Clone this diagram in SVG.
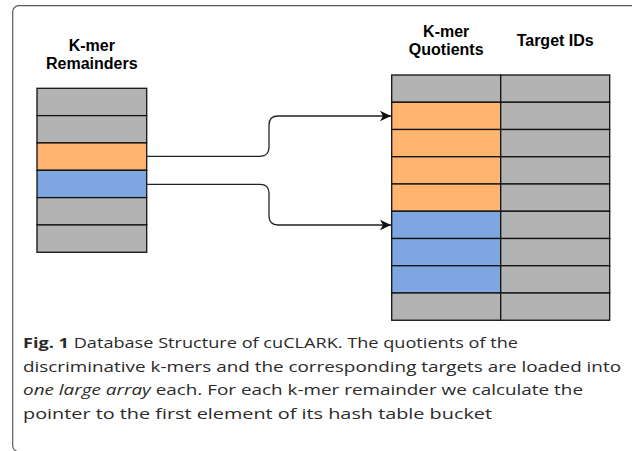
<svg xmlns="http://www.w3.org/2000/svg" width="632" height="451" viewBox="0 0 632 451">
  <defs>
    <style>
      .frame { fill: none; stroke: #5a5a5a; stroke-width: 1.2; }
      .cell { stroke: #111; stroke-width: 1.3; }
      .grey { fill: #b3b3b3; }
      .orange { fill: #ffb570; }
      .blue { fill: #7ea6e0; }
      .hdr { font-family: "Liberation Sans", Arial, sans-serif; font-weight: bold; font-size: 16px; fill: #000; text-anchor: middle; }
      .wire { fill: none; stroke: #222; stroke-width: 1.3; }
      .cap { font-family: "Open Sans", "Noto Sans", sans-serif; font-size: 14.5px; fill: #2a2a2a; }
    </style>
    <marker id="arrow" markerUnits="userSpaceOnUse" markerWidth="12" markerHeight="12" viewBox="0 0 12 12" refX="11" refY="6" orient="auto">
      <path d="M11,6 L0,0.8 L3,6 L0,11.2 Z" fill="#111"/>
    </marker>
  </defs>

  <rect class="frame" x="12.7" y="5.7" width="640" height="446" rx="6"/>

  <!-- K-mer remainders array -->
  <g id="remainders">
    <text class="hdr" x="91.8" y="50.5">K-mer</text>
    <text class="hdr" x="91.8" y="69">Remainders</text>
    <rect class="cell grey" x="37" y="88.3" width="109.7" height="27.33"/>
    <rect class="cell grey" x="37" y="115.63" width="109.7" height="27.33"/>
    <rect class="cell orange" x="37" y="142.96" width="109.7" height="27.33"/>
    <rect class="cell blue" x="37" y="170.29" width="109.7" height="27.33"/>
    <rect class="cell grey" x="37" y="197.62" width="109.7" height="27.33"/>
    <rect class="cell grey" x="37" y="224.95" width="109.7" height="27.33"/>
  </g>

  <!-- K-mer quotients column -->
  <g id="quotients">
    <text class="hdr" x="446.2" y="36.7">K-mer</text>
    <text class="hdr" x="446.2" y="54.5">Quotients</text>
    <rect class="cell grey" x="391.7" y="75" width="109" height="27.25"/>
    <rect class="cell orange" x="391.7" y="102.25" width="109" height="27.25"/>
    <rect class="cell orange" x="391.7" y="129.5" width="109" height="27.25"/>
    <rect class="cell orange" x="391.7" y="156.75" width="109" height="27.25"/>
    <rect class="cell orange" x="391.7" y="184" width="109" height="27.25"/>
    <rect class="cell blue" x="391.7" y="211.25" width="109" height="27.25"/>
    <rect class="cell blue" x="391.7" y="238.5" width="109" height="27.25"/>
    <rect class="cell blue" x="391.7" y="265.75" width="109" height="27.25"/>
    <rect class="cell grey" x="391.7" y="293" width="109" height="27.25"/>
  </g>

  <!-- Target IDs column -->
  <g id="targets">
    <text class="hdr" x="555.2" y="46">Target IDs</text>
    <rect class="cell grey" x="500.7" y="75" width="109" height="27.25"/>
    <rect class="cell grey" x="500.7" y="102.25" width="109" height="27.25"/>
    <rect class="cell grey" x="500.7" y="129.5" width="109" height="27.25"/>
    <rect class="cell grey" x="500.7" y="156.75" width="109" height="27.25"/>
    <rect class="cell grey" x="500.7" y="184" width="109" height="27.25"/>
    <rect class="cell grey" x="500.7" y="211.25" width="109" height="27.25"/>
    <rect class="cell grey" x="500.7" y="238.5" width="109" height="27.25"/>
    <rect class="cell grey" x="500.7" y="265.75" width="109" height="27.25"/>
    <rect class="cell grey" x="500.7" y="293" width="109" height="27.25"/>
  </g>

  <!-- connectors from remainders to bucket starts -->
  <g id="connectors">
    <path class="wire" marker-end="url(#arrow)" d="M146.7,156.3 H260 Q269,156.3 269,147.3 V125 Q269,116 278,116 H391"/>
    <path class="wire" marker-end="url(#arrow)" d="M146.7,184.3 H260 Q269,184.3 269,193.3 V216 Q269,225 278,225 H391"/>
  </g>

  <!-- caption -->
  <g id="caption">
    <text class="cap" x="23" y="347.7" textLength="495" lengthAdjust="spacingAndGlyphs"><tspan font-weight="bold">Fig. 1</tspan> Database Structure of cuCLARK. The quotients of the</text>
    <text class="cap" x="23" y="371.5" textLength="598" lengthAdjust="spacingAndGlyphs">discriminative k-mers and the corresponding targets are loaded into</text>
    <text class="cap" x="23" y="395" textLength="560" lengthAdjust="spacingAndGlyphs"><tspan font-style="italic">one large array</tspan> each. For each k-mer remainder we calculate the</text>
    <text class="cap" x="23" y="418.5" textLength="469" lengthAdjust="spacingAndGlyphs">pointer to the first element of its hash table bucket</text>
  </g>
</svg>
